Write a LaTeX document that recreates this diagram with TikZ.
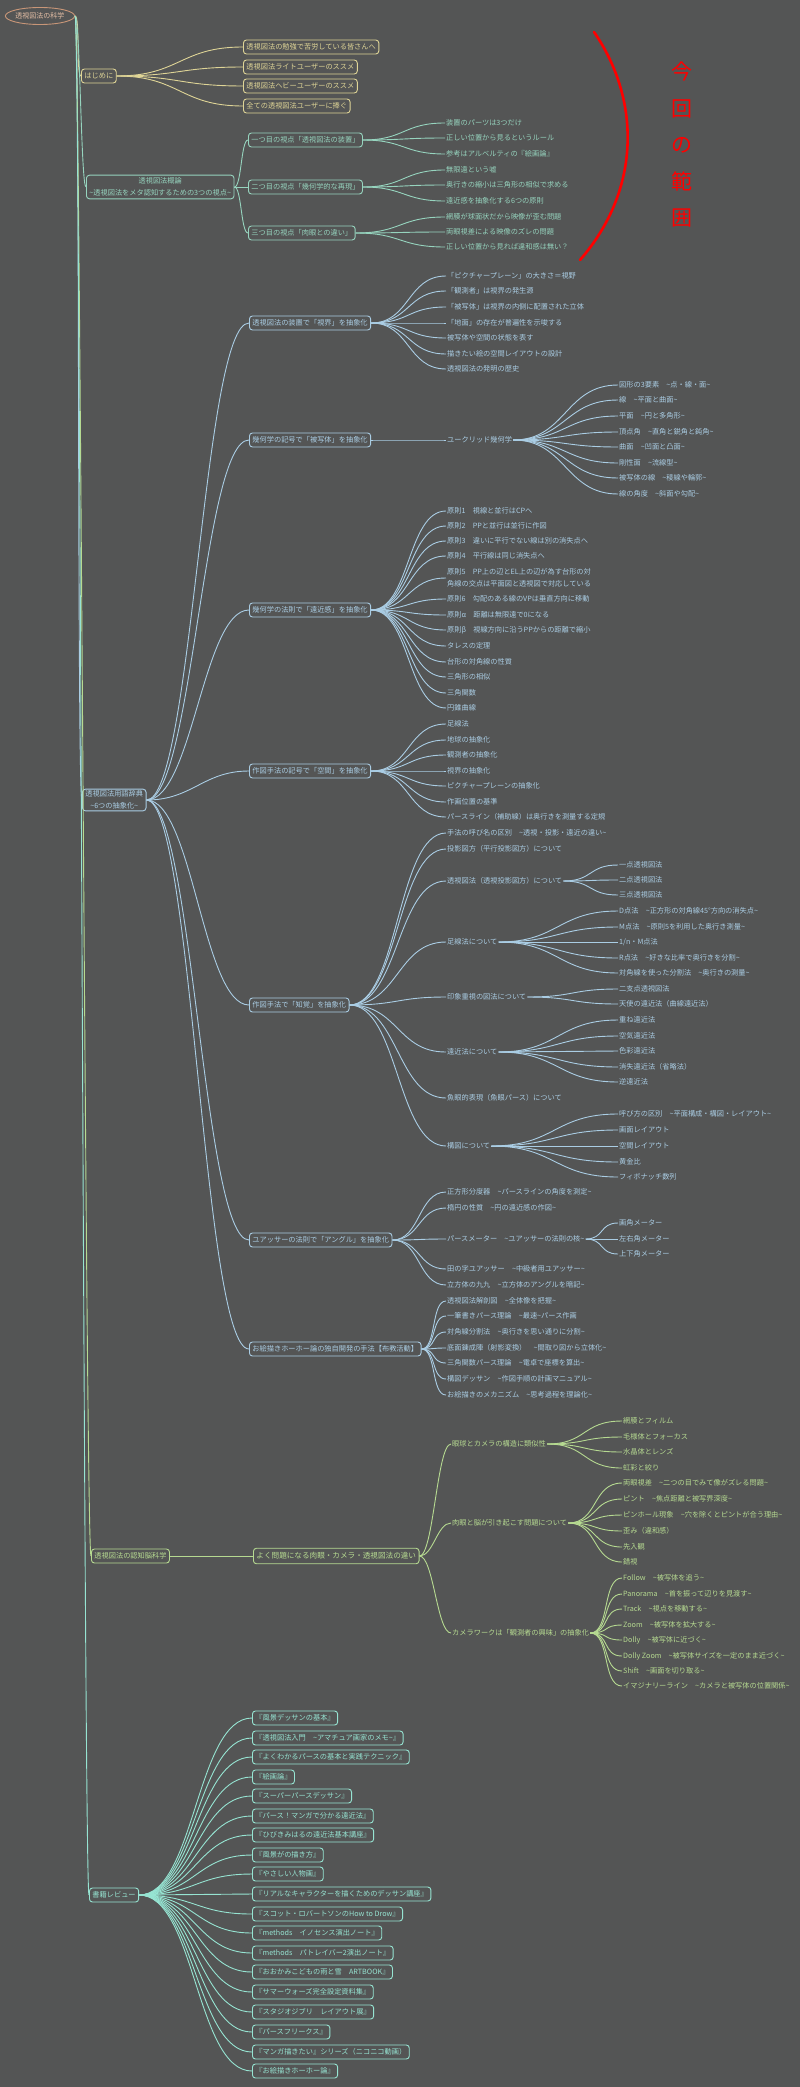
\documentclass[tikz,border=0pt]{standalone}
\usepackage{fontspec}
\setmainfont{Noto Sans CJK JP}
\usetikzlibrary{shapes.geometric}
\definecolor{bg}{RGB}{84,85,85}
\definecolor{cR}{RGB}{200,150,120}
\definecolor{cRt}{RGB}{228,190,165}
\definecolor{cY}{RGB}{222,212,150}
\definecolor{cT}{RGB}{150,212,190}
\definecolor{cB}{RGB}{170,205,228}
\definecolor{cG}{RGB}{182,218,145}
\definecolor{cA}{RGB}{150,228,210}
\definecolor{cRed}{RGB}{255,0,0}
\newcommand\Tl{\textasciitilde}
\tikzset{
  leaf/.style={anchor=west, inner xsep=1pt, inner ysep=1pt, align=left, font=\fontsize{7.2}{11.5}\selectfont},
  bx/.style={anchor=west, draw, rounded corners=3pt, line width=0.9pt, inner xsep=3pt, inner ysep=1.5pt, minimum height=14pt, align=center, font=\fontsize{7.2}{12}\selectfont},
  edge/.style={line width=0.9pt},
}
% #1 colour, #2 parent, #3 prefix, #4 x, #5 half gap, #6 list y/text
\newcommand\fan[6]{\foreach \yy/\Ltxt [count=\ii] in {#6}{%
  \node[leaf,text=#1] (#3\ii) at (#4,\yy) {\Ltxt};
  \draw[edge,draw=#1] (#2.east) .. controls +(#5,0) and +(-#5,0) .. (#3\ii.west);}}
\newcommand\bfan[6]{\foreach \yy/\Ltxt [count=\ii] in {#6}{%
  \node[bx,draw=#1,text=#1] (#3\ii) at (#4,\yy) {\Ltxt};
  \draw[edge,draw=#1] (#2.east) .. controls +(#5,0) and +(-#5,0) .. (#3\ii.west);}}
\begin{document}
\begin{tikzpicture}[x=1pt,y=-1pt]
\fill[bg] (0,0) rectangle (800,2087);
\useasboundingbox (0,0) rectangle (800,2087);

% root and level 1
\node[ellipse, draw=cR, text=cRt, line width=0.9pt, minimum width=66pt, minimum height=17pt, inner sep=0pt, font=\fontsize{7}{8}\selectfont] (root) at (40,16) {透視図法の科学};
\node[bx, draw=cY, text=cY] (hajime) at (81,76) {はじめに};
\node[bx, draw=cT, text=cT, inner ysep=2.5pt] (gairon) at (86,187) {透視図法概論\\\Tl{}透視図法をメタ認知するための3つの視点\Tl{}};
\node[bx, draw=cB, text=cB] (jiten) at (82,800) {透視図法用語辞典\\\Tl{}6つの抽象化\Tl{}};
\node[bx, draw=cG, text=cG] (nin) at (91,1556) {透視図法の認知脳科学};
\node[bx, draw=cA, text=cA] (shoseki) at (89,1895) {書籍レビュー};
\foreach \n/\c in {hajime/cY, gairon/cT, jiten/cB, nin/cG, shoseki/cA}
  \draw[edge, draw=\c] (root.east) .. controls +(5,0) and +(-5,0) .. (\n.west);

% はじめに
\bfan{cY}{hajime}{h}{243}{63}{47/{透視図法の勉強で苦労している皆さんへ},67/{透視図法ライトユーザーのススメ},86/{透視図法ヘビーユーザーのススメ},106/{全ての透視図法ユーザーに捧ぐ}}

% 概論
\bfan{cT}{gairon}{g}{248}{7}{140/{一つ目の視点「透視図法の装置」},187/{二つ目の視点「幾何学的な再現」},233/{三つ目の視点「肉眼との違い」}}
\fan{cT}{g1}{gA}{445}{42}{123/{装置のパーツは3つだけ},138/{正しい位置から見るというルール},154/{参考はアルベルティの『絵画論』}}
\fan{cT}{g2}{gB}{445}{42}{170/{無限遠という嘘},185/{奥行きの縮小は三角形の相似で求める},201/{遠近感を抽象化する6つの原則}}
\fan{cT}{g3}{gC}{445}{46}{217/{網膜が球面状だから映像が歪む問題},232/{両眼視差による映像のズレの問題},247/{正しい位置から見れば違和感は無い？}}

% 今回の範囲
\draw[cRed, line width=2.6pt, line cap=round] (594,32) .. controls (641,100) and (641,190) .. (580,260);
\node[text=cRed, align=center, font=\fontsize{21}{36.5}\selectfont, inner sep=0pt] (range) at (682,145) {今\\回\\の\\範\\囲};

% 用語辞典
\bfan{cB}{jiten}{j}{249}{46}{323/{透視図法の装置で「視界」を抽象化},440/{幾何学の記号で「被写体」を抽象化},610/{幾何学の法則で「遠近感」を抽象化},771/{作図手法の記号で「空間」を抽象化},1005/{作図手法で「知覚」を抽象化},1240/{ユアッサーの法則で「アングル」を抽象化},1349/{お絵描きホーホー論の独自開発の手法【布教活動】}}

\fan{cB}{j1}{jA}{446}{39}{276/{「ピクチャープレーン」の大きさ＝視野},291/{「観測者」は視界の発生源},307/{「被写体」は視界の内側に配置された立体},323/{「地面」の存在が普遍性を示唆する},338/{被写体や空間の状態を表す},354/{描きたい絵の空間レイアウトの設計},369/{透視図法の発明の歴史}}

\fan{cB}{j2}{jB}{446}{39}{440/{ユークリッド幾何学}}
\fan{cB}{jB1}{eu}{618}{53}{385/{図形の3要素　\Tl{}点・線・面\Tl{}},400/{線　\Tl{}平面と曲面\Tl{}},416/{平面　\Tl{}円と多角形\Tl{}},432/{頂点角　\Tl{}直角と鋭角と鈍角\Tl{}},447/{曲面　\Tl{}凹面と凸面\Tl{}},463/{剛性面　\Tl{}流線型\Tl{}},478/{被写体の線　\Tl{}稜線や輪郭\Tl{}},494/{線の角度　\Tl{}斜面や勾配\Tl{}}}

\fan{cB}{j3}{jC}{446}{39}{511/{原則1　視線と並行はCPへ},526/{原則2　PPと並行は並行に作図},541/{原則3　違いに平行でない線は別の消失点へ},556/{原則4　平行線は同じ消失点へ},578/{原則5　PP上の辺とEL上の辺が為す台形の対\\角線の交点は平面図と透視図で対応している},599/{原則6　勾配のある線のVPは垂直方向に移動},615/{原則α　距離は無限遠で0になる},630/{原則β　視線方向に沿うPPからの距離で縮小},646/{タレスの定理},662/{台形の対角線の性質},677/{三角形の相似},693/{三角関数},708/{円錐曲線}}

\fan{cB}{j4}{jD}{446}{39}{724/{足線法},740/{地球の抽象化},755/{観測者の抽象化},771/{視界の抽象化},786/{ピクチャープレーンの抽象化},802/{作画位置の基準},817/{パースライン（補助線）は奥行きを測量する定規}}

\fan{cB}{j5}{jE}{446}{49}{833/{手法の呼び名の区別　\Tl{}透視・投影・遠近の違い\Tl{}},849/{投影図方（平行投影図方）について},881/{透視図法（透視投影図方）について},942/{足線法について},997/{印象重視の図法について},1052/{遠近法について},1098/{魚眼的表現（魚眼パース）について},1146/{構図について}}
\fan{cB}{jE3}{pA}{618}{30}{865/{一点透視図法},880/{二点透視図法},895/{三点透視図法}}
\fan{cB}{jE4}{pB}{618}{60}{911/{D点法　\Tl{}正方形の対角線45°方向の消失点\Tl{}},927/{M点法　\Tl{}原則5を利用した奥行き測量\Tl{}},942/{1/n・M点法},958/{R点法　\Tl{}好きな比率で奥行きを分割\Tl{}},973/{対角線を使った分割法　\Tl{}奥行きの測量\Tl{}}}
\fan{cB}{jE5}{pC}{618}{47}{989/{二支点透視図法},1004/{天使の遠近法（曲線遠近法）}}
\fan{cB}{jE6}{pD}{618}{60}{1020/{重ね遠近法},1036/{空気遠近法},1051/{色彩遠近法},1067/{消失遠近法（省略法）},1082/{逆遠近法}}
\fan{cB}{jE8}{pE}{618}{64}{1114/{呼び方の区別　\Tl{}平面構成・構図・レイアウト\Tl{}},1130/{画面レイアウト},1146/{空間レイアウト},1162/{黄金比},1177/{フィボナッチ数列}}

\fan{cB}{j6}{jF}{446}{28}{1192/{正方形分度器　\Tl{}パースラインの角度を測定\Tl{}},1208/{楕円の性質　\Tl{}円の遠近感の作図\Tl{}},1239/{パースメーター　\Tl{}ユアッサーの法則の核\Tl{}},1269/{田の字ユアッサー　\Tl{}中級者用ユアッサー\Tl{}},1285/{立方体の九九　\Tl{}立方体のアングルを暗記\Tl{}}}
\fan{cB}{jF3}{mA}{618}{19}{1223/{画角メーター},1239/{左右角メーター},1254/{上下角メーター}}

\fan{cB}{j7}{jG}{446}{15}{1301/{透視図法解剖図　\Tl{}全体像を把握\Tl{}},1316/{一筆書きパース理論　\Tl{}最速\Tl{}パース作画},1332/{対角線分割法　\Tl{}奥行きを思い通りに分割\Tl{}},1348/{底面錬成陣（射影変換）　\Tl{}間取り図から立体化\Tl{}},1363/{三角関数パース理論　\Tl{}電卓で座標を算出\Tl{}},1379/{構図デッサン　\Tl{}作図手順の計画マニュアル\Tl{}},1395/{お絵描きのメカニズム　\Tl{}思考過程を理論化\Tl{}}}

% 認知脳科学
\node[bx, draw=cG, text=cG, font=\fontsize{7.6}{12}\selectfont, minimum height=15.5pt] (yoku) at (253,1556) {よく問題になる肉眼・カメラ・透視図法の違い};
\draw[edge, draw=cG] (nin.east) -- (yoku.west);
\fan{cG}{yoku}{nA}{451}{14}{1444/{眼球とカメラの構造に類似性},1523/{肉眼と脳が引き起こす問題について},1633/{カメラワークは「観測者の興味」の抽象化}}
\fan{cG}{nA1}{kA}{622}{40}{1421/{網膜とフィルム},1437/{毛様体とフォーカス},1452/{水晶体とレンズ},1468/{虹彩と絞り}}
\fan{cG}{nA2}{kB}{622}{30}{1483/{両眼視差　\Tl{}二つの目でみて像がズレる問題\Tl{}},1499/{ピント　\Tl{}焦点距離と被写界深度\Tl{}},1515/{ピンホール現象　\Tl{}穴を除くとピントが合う理由\Tl{}},1531/{歪み（違和感）},1547/{先入観},1562/{錯視}}
\fan{cG}{nA3}{kC}{622}{20}{1578/{Follow　\Tl{}被写体を追う\Tl{}},1594/{Panorama　\Tl{}首を振って辺りを見渡す\Tl{}},1609/{Track　\Tl{}視点を移動する\Tl{}},1625/{Zoom　\Tl{}被写体を拡大する\Tl{}},1640/{Dolly　\Tl{}被写体に近づく\Tl{}},1656/{Dolly Zoom　\Tl{}被写体サイズを一定のまま近づく\Tl{}},1671/{Shift　\Tl{}画面を切り取る\Tl{}},1686/{イマジナリーライン　\Tl{}カメラと被写体の位置関係\Tl{}}}

% 書籍レビュー
\bfan{cA}{shoseki}{b}{252}{56}{1718/{『風景デッサンの基本』},1738/{『透視図法入門　\Tl{}アマチュア画家のメモ\Tl{}』},1757/{『よくわかるパースの基本と実践テクニック』},1777/{『絵画論』},1796/{『スーパーパースデッサン』},1816/{『パース！マンガで分かる遠近法』},1835/{『ひびきみはるの遠近法基本講座』},1855/{『風景がの描き方』},1874/{『やさしい人物画』},1894/{『リアルなキャラクターを描くためのデッサン講座』},1914/{『スコット・ロバートソンのHow to Drow』},1933/{『methods　イノセンス演出ノート』},1953/{『methods　パトレイバー2演出ノート』},1972/{『おおかみこどもの雨と雪　ARTBOOK』},1992/{『サマーウォーズ完全設定資料集』},2012/{『スタジオジブリ　レイアウト展』},2032/{『パースフリークス』},2052/{『マンガ描きたい』シリーズ（ニコニコ動画）},2071/{『お絵描きホーホー論』}}
\end{tikzpicture}
\end{document}
